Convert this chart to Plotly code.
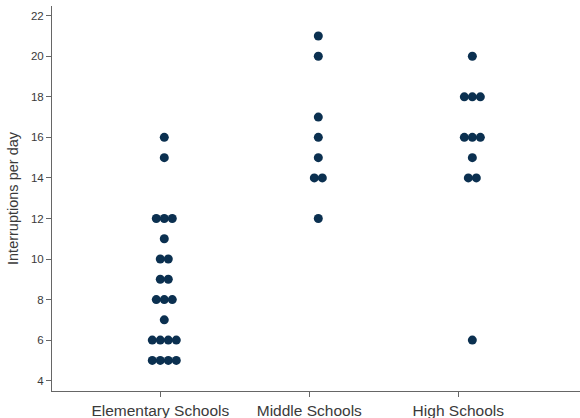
import plotly.graph_objects as go

categories = ['Elementary Schools', 'Middle Schools', 'High Schools']
elementary = [16, 15, 12, 12, 12, 11, 10, 10, 9, 9, 8, 8, 8, 7, 6, 6, 6, 6, 5, 5, 5, 5]
middle = [21, 20, 17, 16, 15, 14, 14, 12]
high = [20, 18, 18, 18, 16, 16, 16, 15, 14, 14, 6]
y_ticks = [4, 6, 8, 10, 12, 14, 16, 18, 20, 22]

DOT_COLOR = '#0b3050'
STEP = 0.052  # horizontal gap between dots sharing a value


def swarm(values, center):
    xs, ys = [], []
    for v in sorted(set(values)):
        n = values.count(v)
        for i in range(n):
            xs.append(center + (i - (n - 1) / 2) * STEP)
            ys.append(v)
    return xs, ys


fig = go.Figure()
# empty trace so the category axis gets drawn
fig.add_trace(go.Scatter(x=[None], y=[None], mode='markers', hoverinfo='skip'))
for i, vals in enumerate([elementary, middle, high]):
    xs, ys = swarm(vals, i)
    fig.add_trace(go.Scatter(
        x=xs, y=ys, mode='markers', xaxis='x2', yaxis='y',
        marker=dict(size=9, color=DOT_COLOR),
        name=categories[i], hoverinfo='y',
    ))

axis_font = dict(family='Liberation Sans, Arial, sans-serif', color='#3a3a3a')

fig.update_layout(
    width=580, height=418,
    margin=dict(l=52, r=0, t=6, b=27),
    paper_bgcolor='white', plot_bgcolor='white',
    showlegend=False,
    xaxis=dict(
        range=[-0.727, 2.817], automargin=False,
        tickmode='array', tickvals=[0, 1, 2], ticktext=categories,
        ticks='outside', ticklen=5, tickcolor='#666666',
        showline=True, linecolor='#666666', linewidth=1,
        showgrid=False, zeroline=False,
        tickfont=dict(size=15.5, **axis_font),
    ),
    xaxis2=dict(
        range=[-0.729, 2.699], overlaying='x', visible=False,
    ),
    yaxis=dict(
        range=[3.49, 22.48], automargin=False,
        tickmode='array', tickvals=y_ticks,
        ticks='outside', ticklen=5, tickcolor='#666666',
        showline=True, linecolor='#666666', linewidth=1,
        showgrid=False, zeroline=False,
        tickfont=dict(size=11.5, **axis_font),
        title=dict(text='Interruptions per day', font=dict(size=14.5, **axis_font), standoff=8),
    ),
)

# drop the browser's default page margin so the figure sits at the corner
fig.write_html('out.html', config={'displayModeBar': False},
               post_script="document.body.style.margin='0';")
